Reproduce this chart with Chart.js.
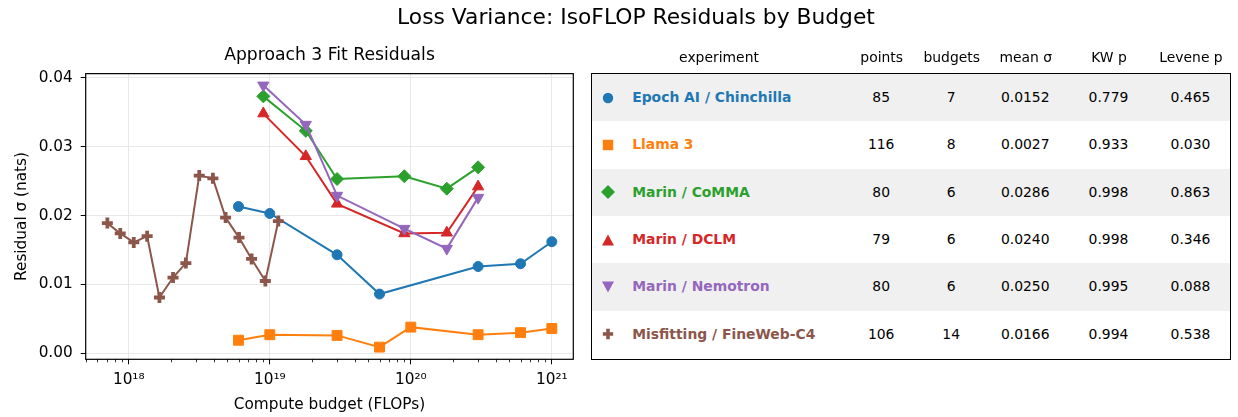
<!DOCTYPE html>
<html lang="en">
<head>
    <meta charset="UTF-8">
    <title>Loss Variance: IsoFLOP Residuals by Budget</title>
    <script src="https://cdn.jsdelivr.net/npm/chart.js@4/dist/chart.umd.min.js"></script>
    <style>
        body {
            margin: 0;
            background: #fff;
            font-family: "DejaVu Sans", sans-serif;
            color: #000;
        }
        #page {
            position: relative;
            width: 1238px;
            height: 417px;
            overflow: hidden;
        }
        #chart1 {
            position: absolute;
            left: 0;
            top: 0;
        }
        #suptitle {
            position: absolute;
            left: 336px;
            top: 5px;
            width: 600px;
            text-align: center;
            font-size: 21.8px;
            line-height: 24px;
        }
        #thead {
            position: absolute;
            left: 0;
            top: 46px;
            width: 1238px;
            height: 22px;
            font-size: 13.9px;
            line-height: 22px;
        }
        #tbox {
            position: absolute;
            left: 591px;
            top: 73px;
            width: 640px;
            height: 287px;
            border: 1.5px solid #000;
            box-sizing: border-box;
        }
        .row {
            position: absolute;
            left: 0;
            width: 100%;
            font-size: 13.9px;
        }
        .cell {
            position: absolute;
            width: 100px;
            text-align: center;
            white-space: nowrap;
        }
        .name {
            position: absolute;
            font-weight: bold;
            white-space: nowrap;
        }
        .mark {
            position: absolute;
            width: 14px;
            height: 14px;
            line-height: 0;
        }
        .mark svg {
            display: block;
        }
    </style>
</head>
<body>
<div id="page">
    <canvas id="chart1" width="590" height="417"></canvas>
    <div id="suptitle">Loss Variance: IsoFLOP Residuals by Budget</div>
    <div id="thead"></div>
    <div id="tbox"></div>
</div>
<script>
    // series, in plotting order
    const experiments = ["Epoch AI / Chinchilla", "Llama 3", "Marin / CoMMA", "Marin / DCLM", "Marin / Nemotron", "Misfitting / FineWeb-C4"];
    const colors = ["#1f77b4", "#ff7f0e", "#2ca02c", "#d62728", "#9467bd", "#8c564b"];

    const chinchillaBudgets = [6e18, 1e19, 3e19, 6e19, 3e20, 6e20, 1e21];
    const chinchillaSigma = [0.0213, 0.0203, 0.0143, 0.0086, 0.0126, 0.0130, 0.0162];
    const llamaBudgets = [6e18, 1e19, 3e19, 6e19, 1e20, 3e20, 6e20, 1e21];
    const llamaSigma = [0.0019, 0.0027, 0.0026, 0.0009, 0.0038, 0.0027, 0.0030, 0.0036];
    const marinBudgets = [9e18, 1.8e19, 3e19, 9e19, 1.8e20, 3e20];
    const commaSigma = [0.0373, 0.0323, 0.0253, 0.0257, 0.0239, 0.0270];
    const dclmSigma = [0.0348, 0.0286, 0.0217, 0.0174, 0.0175, 0.0242];
    const nemotronSigma = [0.0389, 0.0332, 0.0229, 0.0181, 0.0152, 0.0226];
    const misfitBudgets = [7.05e17, 8.7e17, 1.085e18, 1.35e18, 1.65e18, 2.06e18, 2.54e18, 3.16e18, 3.95e18, 4.86e18, 6.05e18, 7.43e18, 9.3e18, 1.15e19];
    const misfitSigma = [0.0189, 0.0174, 0.0161, 0.0170, 0.0081, 0.0110, 0.0131, 0.0258, 0.0254, 0.0197, 0.0168, 0.0137, 0.0105, 0.0192];

    const yTicks = [0.00, 0.01, 0.02, 0.03, 0.04];

    // table columns
    const tableHeader = ["experiment", "points", "budgets", "mean σ", "KW p", "Levene p"];
    const nPoints = [85, 116, 80, 79, 80, 106];
    const nBudgets = [7, 8, 6, 6, 6, 14];
    const meanSigma = [0.0152, 0.0027, 0.0286, 0.0240, 0.0250, 0.0166];
    const kwP = [0.779, 0.933, 0.998, 0.998, 0.995, 0.994];
    const leveneP = [0.465, 0.030, 0.863, 0.346, 0.088, 0.538];

    const budgets = [chinchillaBudgets, llamaBudgets, marinBudgets, marinBudgets, marinBudgets, misfitBudgets];
    const sigmas = [chinchillaSigma, llamaSigma, commaSigma, dclmSigma, nemotronSigma, misfitSigma];
    const styles = [
        {pointStyle: "circle", pointRadius: 5, pointBorderWidth: 1, pointRotation: 0},
        {pointStyle: "rect", pointRadius: 7, pointBorderWidth: 1, pointRotation: 0},
        {pointStyle: "rectRot", pointRadius: 6.5, pointBorderWidth: 1, pointRotation: 0},
        {pointStyle: "triangle", pointRadius: 6.5, pointBorderWidth: 1, pointRotation: 0},
        {pointStyle: "triangle", pointRadius: 6.5, pointBorderWidth: 1, pointRotation: 180},
        {pointStyle: "cross", pointRadius: 5.5, pointBorderWidth: 3.8, pointRotation: 0}
    ];

    Chart.defaults.font.family = "'DejaVu Sans', sans-serif";
    Chart.defaults.color = "#000";

    const isMajor = v => Math.abs(Math.log10(v) - Math.round(Math.log10(v))) < 1e-9;
    const sup = "⁰¹²³⁴⁵⁶⁷⁸⁹";
    const powLabel = v => "10" + String(Math.round(Math.log10(v))).split("").map(d => sup[+d]).join("");

    const frame = {
        id: "frame",
        afterDraw(chart) {
            const ctx = chart.ctx, a = chart.chartArea, xs = chart.scales.x;
            ctx.save();
            // minor ticks on the log axis
            ctx.strokeStyle = "#000";
            ctx.lineWidth = 0.8;
            xs.ticks.forEach(t => {
                if (isMajor(t.value)) return;
                const px = Math.round(xs.getPixelForValue(t.value)) + 0.5;
                ctx.beginPath();
                ctx.moveTo(px, a.bottom);
                ctx.lineTo(px, a.bottom + 3);
                ctx.stroke();
            });
            ctx.lineWidth = 1.2;
            ctx.strokeRect(a.left, a.top, a.right - a.left, a.bottom - a.top);
            ctx.restore();
        }
    };

    new Chart("chart1", {
        type: "scatter",
        data: {
            datasets: experiments.map((name, i) => Object.assign({
                label: name,
                data: budgets[i].map((b, j) => ({x: b, y: sigmas[i][j]})),
                showLine: true,
                borderColor: colors[i],
                backgroundColor: colors[i],
                pointBackgroundColor: colors[i],
                pointBorderColor: colors[i],
                borderWidth: 2,
                order: experiments.length - i
            }, styles[i]))
        },
        options: {
            responsive: false,
            animation: false,
            layout: {
                padding: {left: 0, right: 16.7, top: 0, bottom: 0}
            },
            plugins: {
                legend: {display: false},
                tooltip: {enabled: false},
                title: {
                    display: true,
                    fullSize: false,
                    text: "Approach 3 Fit Residuals",
                    font: {size: 17.2, weight: "normal", lineHeight: 1.2},
                    color: "#000",
                    padding: {top: 45, bottom: 8}
                }
            },
            scales: {
                x: {
                    type: "logarithmic",
                    min: 4.95e17,
                    max: 1.42e21,
                    afterBuildTicks: scale => {
                        const ticks = [];
                        for (let e = 17; e <= 21; e++) {
                            for (let m = 1; m <= 9; m++) {
                                const v = m * Math.pow(10, e);
                                if (v >= scale.min && v <= scale.max) ticks.push({value: v});
                            }
                        }
                        scale.ticks = ticks;
                    },
                    afterFit: scale => { scale.height = 57.7; },
                    ticks: {
                        autoSkip: false,
                        maxRotation: 0,
                        padding: 7,
                        font: {size: 15.3},
                        color: "#000",
                        callback: v => isMajor(v) ? powLabel(v) : ""
                    },
                    grid: {
                        color: ctx => ctx.tick && isMajor(ctx.tick.value) ? "#e8e8e8" : "rgba(0,0,0,0)",
                        tickColor: ctx => ctx.tick && isMajor(ctx.tick.value) ? "#000" : "rgba(0,0,0,0)",
                        tickLength: 5,
                        tickWidth: 1
                    },
                    border: {display: false},
                    title: {
                        display: true,
                        text: "Compute budget (FLOPs)",
                        font: {size: 15.3, lineHeight: 1.2},
                        color: "#000",
                        padding: {top: 0, bottom: 3}
                    }
                },
                y: {
                    type: "linear",
                    min: -0.00087,
                    max: 0.0406,
                    afterBuildTicks: scale => { scale.ticks = yTicks.map(v => ({value: v})); },
                    afterFit: scale => { scale.width = 85.7; },
                    ticks: {
                        padding: 8,
                        font: {size: 15.3},
                        color: "#000",
                        callback: v => v.toFixed(2)
                    },
                    grid: {
                        color: "#e8e8e8",
                        tickColor: "#000",
                        tickLength: 5,
                        tickWidth: 1
                    },
                    border: {display: false},
                    title: {
                        display: true,
                        text: "Residual σ (nats)",
                        font: {size: 15.3, lineHeight: 1.2},
                        color: "#000",
                        padding: {top: 12.5, bottom: 0}
                    }
                }
            }
        },
        plugins: [frame]
    });

    // ---- stats table ----
    const colCenters = [719, 881.7, 951.7, 1025.7, 1109, 1191];
    const boxLeft = 592.5;
    const rowH = 284 / experiments.length;

    const markers = [
        c => `<circle cx="7" cy="7" r="5.2" fill="${c}"/>`,
        c => `<rect x="1.8" y="1.8" width="10.4" height="10.4" fill="${c}"/>`,
        c => `<polygon points="7,0 14,7 7,14 0,7" fill="${c}"/>`,
        c => `<polygon points="7,1.5 13,12.5 1,12.5" fill="${c}"/>`,
        c => `<polygon points="1,1.5 13,1.5 7,12.5" fill="${c}"/>`,
        c => `<path d="M5.2 1.8h3.6v3.4h3.4v3.6h-3.4v3.4h-3.6v-3.4h-3.4v-3.6h3.4z" fill="${c}"/>`
    ];

    const thead = document.getElementById("thead");
    tableHeader.forEach((h, k) => {
        const d = document.createElement("div");
        d.className = "cell";
        d.style.left = (colCenters[k] - 50) + "px";
        d.textContent = h;
        thead.appendChild(d);
    });

    const tbox = document.getElementById("tbox");
    experiments.forEach((name, i) => {
        const row = document.createElement("div");
        row.className = "row";
        row.style.top = (i * rowH) + "px";
        row.style.height = rowH + "px";
        row.style.lineHeight = rowH + "px";
        row.style.background = i % 2 === 0 ? "#f0f0f0" : "#fff";

        const mk = document.createElement("div");
        mk.className = "mark";
        mk.style.left = (608.3 - boxLeft - 7) + "px";
        mk.style.top = (rowH / 2 - 7) + "px";
        mk.innerHTML = `<svg width="14" height="14" viewBox="0 0 14 14">${markers[i](colors[i])}</svg>`;
        row.appendChild(mk);

        const nm = document.createElement("div");
        nm.className = "name";
        nm.style.left = (632.7 - boxLeft) + "px";
        nm.style.color = colors[i];
        nm.textContent = name;
        row.appendChild(nm);

        const vals = [String(nPoints[i]), String(nBudgets[i]), meanSigma[i].toFixed(4), kwP[i].toFixed(3), leveneP[i].toFixed(3)];
        vals.forEach((v, k) => {
            const d = document.createElement("div");
            d.className = "cell";
            d.style.left = (colCenters[k + 1] - boxLeft - 50) + "px";
            d.textContent = v;
            row.appendChild(d);
        });
        tbox.appendChild(row);
    });
</script>
</body>
</html>
